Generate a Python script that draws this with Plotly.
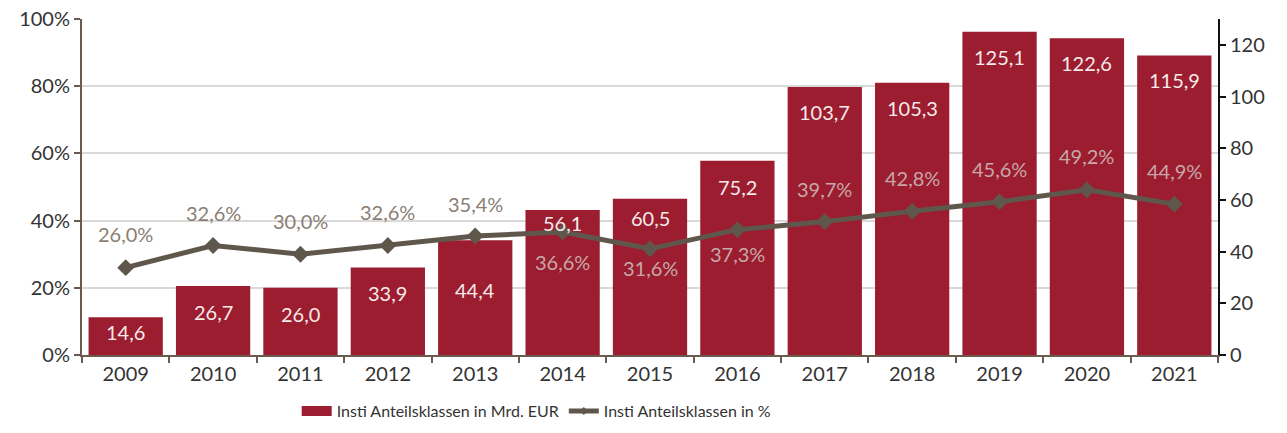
import plotly.graph_objects as go

years = ["2009", "2010", "2011", "2012", "2013", "2014", "2015", "2016", "2017", "2018", "2019", "2020", "2021"]
volume_bn = [14.6, 26.7, 26.0, 33.9, 44.4, 56.1, 60.5, 75.2, 103.7, 105.3, 125.1, 122.6, 115.9]
share_pct = [26.0, 32.6, 30.0, 32.6, 35.4, 36.6, 31.6, 37.3, 39.7, 42.8, 45.6, 49.2, 44.9]
left_ticks = [0, 20, 40, 60, 80, 100]
right_ticks = [0, 20, 40, 60, 80, 100, 120]

# label placement (pixels, style only)
bar_label_drop = [15, 26, 26, 26, 50, 13, 19, 26, 25, 25, 25, 25, 25]
share_label_shift = [34, 32, 33, 33, 32, -30, -19, -24, 33, 33, 33, 34, 33]

BAR = "#9b1d2f"
LINE = "#5f564c"
AXIS = "#6b5b4e"
FONT = "Lato"
NUM = 20

def de(v):
    return f"{v:.1f}".replace(".", ",")

fig = go.Figure()
fig.add_trace(go.Bar(
    x=years, y=volume_bn, name="Insti Anteilsklassen in Mrd. EUR",
    marker=dict(color=BAR, line=dict(width=0)),
    showlegend=False, yaxis="y",
))
fig.add_trace(go.Scatter(
    x=years, y=share_pct, name="Insti Anteilsklassen in %",
    mode="lines+markers", line=dict(color=LINE, width=5),
    marker=dict(symbol="diamond", size=13, color=LINE),
    showlegend=False, yaxis="y2",
))
# legend entries styled like the reference swatches
fig.add_trace(go.Scatter(x=[None], y=[None], mode="lines", name="Insti Anteilsklassen in Mrd. EUR",
                         line=dict(color=BAR, width=11), yaxis="y"))
fig.add_trace(go.Scatter(x=[None], y=[None], mode="lines+markers", name="Insti Anteilsklassen in %",
                         line=dict(color=LINE, width=5), marker=dict(symbol="diamond", size=6, color=LINE),
                         yaxis="y2"))

for i, (v, d) in enumerate(zip(volume_bn, bar_label_drop)):
    fig.add_annotation(x=i, y=v, xref="x", yref="y", text=de(v), showarrow=False, yshift=-d,
                       font=dict(color="#f6eaea", size=NUM, family=FONT))

for i, (v, s) in enumerate(zip(share_pct, share_label_shift)):
    # label sits on a bar if the bar top (in % axis units) is above the label
    bar_top_pct = volume_bn[i] / 130 * 100
    on_red = bar_top_pct > v + s / 3.36 + 2
    fig.add_annotation(x=i, y=v, xref="x", yref="y2", text=de(v) + "%", showarrow=False,
                       yshift=s,
                       font=dict(color="#c7a7a9" if on_red else "#8a7e74", size=NUM, family=FONT))

fig.update_layout(
    width=1287, height=433,
    margin=dict(l=82, r=69, t=19, b=78, autoexpand=False),
    paper_bgcolor="white", plot_bgcolor="white",
    font=dict(family=FONT, size=NUM, color="#3a3a3a"),
    bargap=0.15,
    showlegend=True,
    legend=dict(orientation="h", x=0.189, xanchor="left", y=-0.167, yanchor="middle",
                font=dict(size=16, family=FONT, color="#333"), traceorder="normal",
                itemwidth=30, tracegroupgap=0),
    xaxis=dict(type="category", range=[-0.5, len(years) - 0.5], showline=True, linecolor=AXIS, linewidth=2,
               ticks="outside", tickson="boundaries", ticklen=6, tickcolor=AXIS, tickwidth=2,
               showgrid=False, tickangle=0, automargin=False, tickfont=dict(size=NUM, color="#333")),
    yaxis=dict(side="right", range=[0, 130], tickvals=right_ticks, ticktext=[str(t) for t in right_ticks],
               showline=True, linecolor="#111", linewidth=2, ticks="outside", ticklen=6,
               tickcolor="#111", tickwidth=2, showgrid=False, zeroline=False, automargin=False,
               ticklabeloverflow="allow", tickfont=dict(size=NUM, color="#333")),
    yaxis2=dict(side="left", overlaying="y", range=[0, 100], tickvals=left_ticks,
                ticktext=[f"{t}%" for t in left_ticks],
                showline=True, linecolor=AXIS, linewidth=2, ticks="outside", ticklen=6,
                tickcolor=AXIS, tickwidth=2, showgrid=True, gridcolor="#d9d9d9", gridwidth=1.5,
                zeroline=False, automargin=False, ticklabeloverflow="allow",
                tickfont=dict(size=NUM, color="#333")),
)

fig.write_html("out.html", config={"displayModeBar": False},
               post_script="document.body.style.margin='0';document.body.style.overflow='hidden';")
